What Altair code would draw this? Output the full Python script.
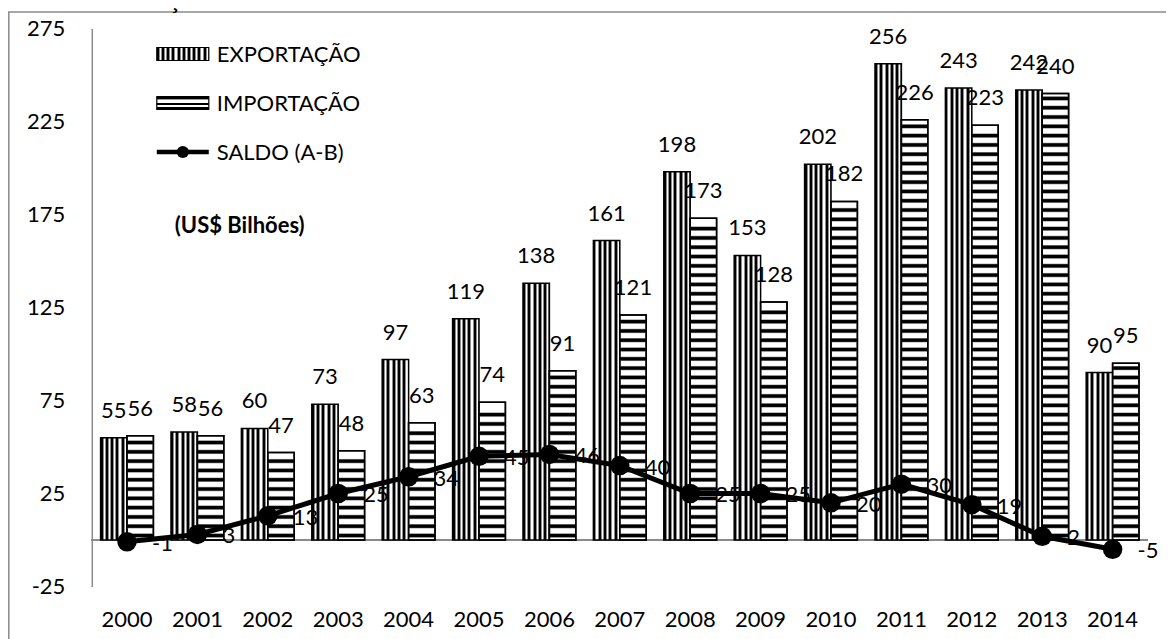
import altair as alt
import pandas as pd

# ---------------- data ----------------
YEARS = [str(y) for y in range(2000, 2015)]
EXPORT = [55, 58, 60, 73, 97, 119, 138, 161, 198, 153, 202, 256, 243, 242, 90]
IMPORT = [56, 56, 47, 48, 63, 74, 91, 121, 173, 128, 182, 226, 223, 240, 95]
SALDO = [-1, 3, 13, 25, 34, 45, 46, 40, 25, 25, 20, 30, 19, 2, -5]
SERIES = ["EXPORTAÇÃO", "IMPORTAÇÃO", "SALDO (A-B)"]
Y_TICKS = [-25, 25, 75, 125, 175, 225, 275]
TITLE = "Gráfico 4 - Balança Comercial do Brasil."
UNIT = "(US$ Bilhões)"

FONT = "Lato"
FS = 22

df_bars = pd.DataFrame({
    "year": YEARS * 2,
    "series": [SERIES[0]] * len(YEARS) + [SERIES[1]] * len(YEARS),
    "value": EXPORT + IMPORT,
})
df_bars["label"] = df_bars["value"].astype(str)
df_exp = df_bars[df_bars.series == SERIES[0]]
df_imp = df_bars[df_bars.series == SERIES[1]]
df_saldo = pd.DataFrame({"year": YEARS, "value": SALDO})
df_saldo["label"] = df_saldo["value"].astype(str)

# horizontal stripe pattern of the import bars (pattern rendering only)
P, H, PHASE = 5.0, 2.4, 1.2
rows = []
for yr, v in zip(YEARS, IMPORT):
    k = 0
    while PHASE + k * P + H <= v - 0.8:
        rows.append({"year": yr, "series": SERIES[1],
                     "value": PHASE + k * P, "value2": PHASE + k * P + H})
        k += 1
df_stripes = pd.DataFrame(rows)


def hard_stops(segments, repeats):
    stops = []
    total = sum(f for _, f in segments)
    pos = 0.0
    for _ in range(repeats):
        for color, f in segments:
            w = f / total / repeats
            stops.append(alt.GradientStop(offset=min(1.0, round(pos, 5)), color=color))
            stops.append(alt.GradientStop(offset=min(1.0, round(pos + w, 5)), color=color))
            pos += w
    return stops


VSTRIPES = alt.LinearGradient(
    gradient="linear", x1=0, y1=0, x2=1, y2=0,
    stops=hard_stops([("black", 2), ("#8c8c8c", 1), ("white", 1.3), ("#8c8c8c", 1)], 5))
VSTRIPES_LEG = alt.LinearGradient(
    gradient="linear", x1=0, y1=0, x2=1, y2=0,
    stops=hard_stops([("black", 2), ("#8c8c8c", 1), ("white", 1.3), ("#8c8c8c", 1)], 10))
HSTRIPE = alt.LinearGradient(
    gradient="linear", x1=0, y1=0, x2=0, y2=1,
    stops=[alt.GradientStop(offset=0, color="#a0a0a0"),
           alt.GradientStop(offset=0.25, color="black"),
           alt.GradientStop(offset=0.75, color="black"),
           alt.GradientStop(offset=1, color="#a0a0a0")])
HSTRIPES_LEG = alt.LinearGradient(
    gradient="linear", x1=0, y1=0, x2=0, y2=1,
    stops=hard_stops([("black", 2.5), ("#999999", 0.6), ("white", 2.5), ("black", 1.8),
                      ("white", 1.5), ("black", 2.5)], 1))

# ---------------- encodings ----------------
x_enc = alt.X("year:N", sort=YEARS,
              scale=alt.Scale(domain=YEARS, paddingInner=0.25, paddingOuter=0.125),
              axis=alt.Axis(title=None, labelAngle=0, domain=False, ticks=False,
                            labelFont=FONT, labelFontSize=FS, labelColor="black",
                            labelPadding=23))
xo_enc = alt.XOffset("series:N", sort=SERIES[:2],
                     scale=alt.Scale(domain=SERIES[:2], paddingInner=0, paddingOuter=0))
y_scale = alt.Scale(domain=[-25, 275], nice=False, zero=False)
y_axis = alt.Axis(title=None, values=Y_TICKS, grid=False, ticks=False,
                  domain=True, domainColor="#8a8a8a", domainWidth=1.5,
                  labelExpr="'' + datum.value",
                  labelFont=FONT, labelFontSize=FS, labelColor="black", labelPadding=27)
y_enc = alt.Y("value:Q", scale=y_scale, axis=y_axis)

zero_rule = alt.Chart(df_saldo).mark_rule(color="#8a8a8a", strokeWidth=1.5).encode(
    y=alt.datum(0, scale=y_scale, axis=y_axis))

exp_bars = alt.Chart(df_exp).mark_bar(fill=VSTRIPES, stroke="black", strokeWidth=1.5).encode(
    x=x_enc, xOffset=xo_enc, y=y_enc, y2=alt.datum(0))
imp_bars = alt.Chart(df_imp).mark_bar(fill="white", stroke="black", strokeWidth=1.5).encode(
    x=x_enc, xOffset=xo_enc, y=y_enc, y2=alt.datum(0))
imp_stripes = alt.Chart(df_stripes).mark_bar(fill=HSTRIPE, strokeWidth=0).encode(
    x=x_enc, xOffset=xo_enc, y=y_enc, y2="value2:Q")
imp_outline = alt.Chart(df_imp).mark_bar(fillOpacity=0, stroke="black", strokeWidth=1.5).encode(
    x=x_enc, xOffset=xo_enc, y=y_enc, y2=alt.datum(0))

bar_labels = alt.Chart(df_bars).mark_text(
    font=FONT, fontSize=FS, color="black", baseline="alphabetic", align="center", dy=-20
).encode(x=x_enc, xOffset=xo_enc, y=y_enc, text="label:N")

line = alt.Chart(df_saldo).mark_line(color="black", strokeWidth=5).encode(x=x_enc, y=y_enc)
points = alt.Chart(df_saldo).mark_circle(color="black", opacity=1, size=380).encode(x=x_enc, y=y_enc)
saldo_labels = alt.Chart(df_saldo).mark_text(
    font=FONT, fontSize=FS, color="black", baseline="alphabetic", align="left", dx=25, dy=9
).encode(x=x_enc, y=y_enc, text="label:N")

# ---------------- manual legend / decorations ----------------
one = pd.DataFrame({"k": [0]})
LX0, LX1, LTX = 65, 117, 125
ROWS = [25.5, 74.5, 123.5]
leg = []
leg.append(alt.Chart(one).mark_rect(fill=VSTRIPES_LEG, stroke="black", strokeWidth=1.2).encode(
    x=alt.value(LX0), x2=alt.value(LX1), y=alt.value(ROWS[0] - 6.5), y2=alt.value(ROWS[0] + 6.5)))
leg.append(alt.Chart(one).mark_rect(fill=HSTRIPES_LEG, stroke="black", strokeWidth=1.2).encode(
    x=alt.value(LX0), x2=alt.value(LX1), y=alt.value(ROWS[1] - 6.5), y2=alt.value(ROWS[1] + 6.5)))
leg.append(alt.Chart(one).mark_rule(color="black", strokeWidth=4.5).encode(
    x=alt.value(LX0), x2=alt.value(LX1), y=alt.value(ROWS[2])))
leg.append(alt.Chart(one).mark_circle(color="black", opacity=1, size=150).encode(
    x=alt.value((LX0 + LX1) / 2), y=alt.value(ROWS[2])))
for i, name in enumerate(SERIES):
    leg.append(alt.Chart(one).mark_text(
        text=name, font=FONT, fontSize=FS, color="black", align="left", baseline="middle"
    ).encode(x=alt.value(LTX), y=alt.value(ROWS[i] + 1)))
leg.append(alt.Chart(one).mark_text(
    text=UNIT, font=FONT, fontSize=FS, fontWeight="bold", color="black",
    align="left", baseline="middle").encode(x=alt.value(83), y=alt.value(197.5)))

border = alt.Chart(one).mark_rect(fillOpacity=0, stroke="#8a8a8a", strokeWidth=1.5, clip=False).encode(
    x=alt.value(-83.0), x2=alt.value(1200), y=alt.value(-16.5), y2=alt.value(700))
title = alt.Chart(one).mark_text(
    text=TITLE, font="Liberation Serif", fontSize=22, fontWeight="bold", color="black",
    align="left", baseline="alphabetic").encode(x=alt.value(-83.8), y=alt.value(-21.0))

chart = alt.layer(
    border, title, zero_rule, exp_bars, imp_bars, imp_stripes, imp_outline,
    bar_labels, line, points, saldo_labels, *leg
).properties(
    width=1056, height=558,
    padding={"left": 83.8, "top": 20.5, "right": 18, "bottom": 52},
    autosize=alt.AutoSizeParams(type="none"),
).configure_view(stroke=None)

chart.save("out.html", embed_options={"renderer": "svg", "actions": False})
